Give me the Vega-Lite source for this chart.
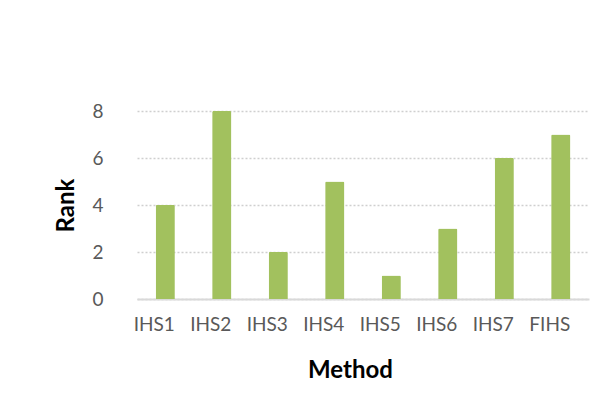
{
  "$schema": "https://vega.github.io/schema/vega-lite/v6.json",
  "autosize": {"type": "none"},
  "padding": {"left": 137, "top": 111, "right": 13, "bottom": 113},
  "width": 452,
  "height": 188,
  "background": "white",
  "data": {
    "values": [
      {"Method": "IHS1", "Rank": 4},
      {"Method": "IHS2", "Rank": 8},
      {"Method": "IHS3", "Rank": 2},
      {"Method": "IHS4", "Rank": 5},
      {"Method": "IHS5", "Rank": 1},
      {"Method": "IHS6", "Rank": 3},
      {"Method": "IHS7", "Rank": 6},
      {"Method": "FIHS", "Rank": 7}
    ]
  },
  "mark": {"type": "bar", "color": "#A2C15E", "cornerRadiusEnd": 1.5},
  "encoding": {
    "x": {
      "field": "Method", "type": "nominal", "sort": null,
      "scale": {"paddingInner": 0.66, "paddingOuter": 0.33},
      "axis": {
        "title": "Method", "labelAngle": 0, "ticks": false,
        "domainColor": "#D9D9D9", "domainWidth": 2,
        "labelFont": "Lato", "labelFontSize": 19, "labelColor": "#595959",
        "labelPadding": 16, "labelOffset": -11,
        "titleFont": "Lato", "titleFontSize": 24, "titleFontWeight": "bold", "titleColor": "#000000",
        "titlePadding": 24, "titleX": 213
      }
    },
    "y": {
      "field": "Rank", "type": "quantitative",
      "scale": {"domain": [0, 8], "nice": false},
      "axis": {
        "title": "Rank", "values": [0, 2, 4, 6, 8], "ticks": false, "domain": false,
        "grid": true, "gridColor": "#CFCFCF", "gridDash": [2, 2], "gridWidth": 1.5,
        "labelFont": "Lato", "labelFontSize": 19, "labelColor": "#595959",
        "labelPadding": 34,
        "titleFont": "Lato", "titleFontSize": 24, "titleFontWeight": "bold", "titleColor": "#000000",
        "titlePadding": 13
      }
    }
  },
  "config": {"view": {"stroke": null}}
}
